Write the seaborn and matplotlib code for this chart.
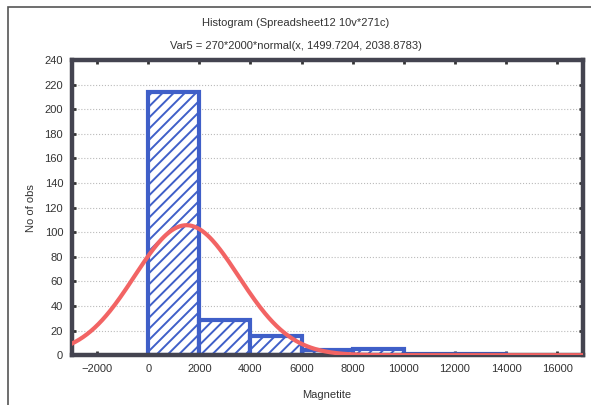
import numpy as np
import pandas as pd
import matplotlib.pyplot as plt
import seaborn as sns
from matplotlib.patches import Rectangle

# ── Data ──────────────────────────────────────────────
bin_edges = [0, 2000, 4000, 6000, 8000, 10000, 12000, 14000]
counts = [214, 29, 16, 4, 5, 1, 1]
n_obs = 270
bin_width = 2000
fit_mean = 1499.7204
fit_sd = 2038.8783
x_ticks = [-2000, 0, 2000, 4000, 6000, 8000, 10000, 12000, 14000, 16000]
y_ticks = list(range(0, 241, 20))

centers = [(a + b) / 2 for a, b in zip(bin_edges[:-1], bin_edges[1:])]
hist_df = pd.DataFrame({'x': centers, 'n': counts})

# fitted normal curve from the parameters in the title
xs = np.linspace(-3000, 17000, 400)
ys = n_obs * bin_width * np.exp(-0.5 * ((xs - fit_mean) / fit_sd) ** 2) / (fit_sd * np.sqrt(2 * np.pi))
curve_df = pd.DataFrame({'x': xs, 'y': ys})

sns.set_theme(style='white')
plt.rcParams['font.family'] = ['Liberation Sans', 'DejaVu Sans']
plt.rcParams['hatch.color'] = '#3f5fc8'
plt.rcParams['hatch.linewidth'] = 1.4

fig = plt.figure(figsize=(5.91, 4.05), dpi=100)
ax = fig.add_axes([0.121, 0.123, 0.865, 0.729])

sns.histplot(data=hist_df, x='x', weights='n', bins=bin_edges, ax=ax,
             fill=False, color='#3f5fc8', linewidth=3, element='bars')
for p in ax.patches:
    p.set_hatch('///')
    p.set_facecolor('white')
    p.set_fill(True)
    p.set_edgecolor('#3f5fc8')

sns.lineplot(data=curve_df, x='x', y='y', ax=ax, color='#f26464', linewidth=3, zorder=5)

ax.set_xlim(-3000, 17000)
ax.set_ylim(0, 240)
ax.set_xticks(x_ticks)
ax.set_yticks(y_ticks)
ax.tick_params(labelsize=8, colors='#333333', direction='in', length=3, width=2,
               top=True, right=True, left=True, bottom=True, pad=6)
ax.yaxis.grid(True, linestyle=':', color='#bbbbbb', linewidth=0.8)
ax.set_axisbelow(True)
for s in ax.spines.values():
    s.set_color('#444450')
    s.set_linewidth(3.2)

ax.set_xlabel('Magnetite', fontsize=8, color='#333333', labelpad=12)
ax.set_ylabel('No of obs', fontsize=8, color='#333333', labelpad=6)

fig.text(0.5, 0.937, 'Histogram (Spreadsheet12 10v*271c)', ha='center', fontsize=8, color='#333333')
fig.text(0.5, 0.878, 'Var5 = 270*2000*normal(x, 1499.7204, 2038.8783)', ha='center', fontsize=8, color='#333333')

# outer frame of the scanned window
fig.patches.append(Rectangle((0.014, -0.01), 1.0, 0.993, transform=fig.transFigure,
                             fill=False, edgecolor='#555555', linewidth=1.2))

plt.savefig('out.png', dpi=100)
